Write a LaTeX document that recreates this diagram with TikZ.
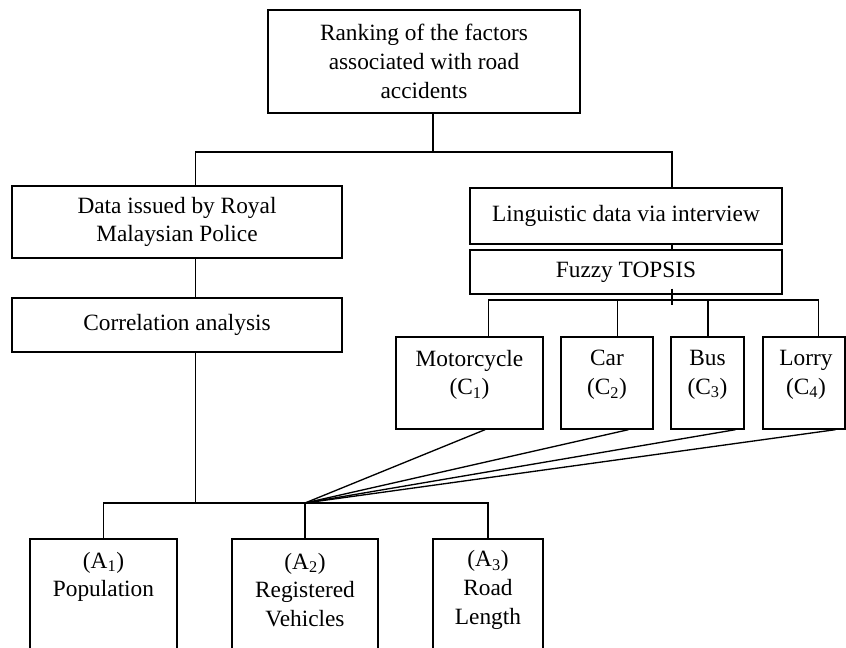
\documentclass[tikz,border=0pt]{standalone}
\usepackage{fontspec}
\setmainfont{Liberation Serif}
\usetikzlibrary{calc}
\begin{document}
\begin{tikzpicture}[x=0.75pt,y=-0.75pt,
  box/.style={draw, line width=1pt, inner sep=0pt, align=center, font=\fontsize{17.5}{21.5}\selectfont},
  txt/.style={inner sep=0pt, align=center, font=\fontsize{17.5}{21.5}\selectfont},
  conn/.style={line width=1pt}]
\useasboundingbox (0,0) rectangle (846,648);
\clip (0,0) rectangle (846,648);
% boxes
\node[box, minimum width=234pt, minimum height=77.25pt] (top) at (424,61.5) {Ranking of the factors\\associated with road\\accidents};
\node[box, minimum width=247.5pt, minimum height=54pt] (data) at (177,222) {Data issued by Royal\\Malaysian Police};
\node[box, minimum width=247.5pt, minimum height=40.5pt] (corr) at (177,325) {Correlation analysis};
\node[box, minimum width=234pt, minimum height=42pt] (ling) at (626,216) {Linguistic data via interview};
\node[box, minimum width=234pt, minimum height=33pt] (fuzzy) at (626,272) {Fuzzy TOPSIS};
\node[box, minimum width=110.25pt, minimum height=69pt] (moto) at (469.5,383) {};
\node[box, minimum width=69pt, minimum height=69pt] (car) at (607,383) {};
\node[box, minimum width=54.75pt, minimum height=69pt] (bus) at (707.5,383) {};
\node[box, minimum width=61.5pt, minimum height=69pt] (lorry) at (804,383) {};
\node[txt] (motoT) at (469.5,375) {Motorcycle\\(C\textsubscript{1})};
\node[txt] (carT) at (607,375) {Car\\(C\textsubscript{2})};
\node[txt] (busT) at (707.5,375) {Bus\\(C\textsubscript{3})};
\node[txt] (lorryT) at (806,375) {Lorry\\(C\textsubscript{4})};
\node[box, minimum width=110.25pt, minimum height=98.25pt] (a1) at (103.5,604.5) {};
\node[box, minimum width=109.5pt, minimum height=98.25pt] (a2) at (305,604.5) {};
\node[box, minimum width=82.5pt, minimum height=98.25pt] (a3) at (488,604.5) {};
\node[txt] (a1T) at (103.5,577) {(A\textsubscript{1})\\Population};
\node[txt] (a2T) at (305,590) {(A\textsubscript{2})\\Registered\\Vehicles};
\node[txt] (a3T) at (488,590) {(A\textsubscript{3})\\Road\\Length};
% levels
\coordinate (lvl1) at (0,152);
\coordinate (lvl2) at (0,300);
\coordinate (lvl3) at (0,503);
% top junction
\coordinate (tS) at ($(top.south west)!0.529!(top.south east)$);
\coordinate (dN) at ($(data.north west)!0.555!(data.north east)$);
\coordinate (lN) at ($(ling.north west)!0.647!(ling.north east)$);
\draw[conn] (tS) -- (tS |- lvl1);
\draw[conn] (dN) -- (dN |- lvl1) -- (lN |- lvl1) -- (lN);
\draw[conn] (dN |- data.south) -- (dN |- corr.north);
\draw[conn] (lN |- ling.south) -- (lN |- fuzzy.north);
\draw[conn] ($(lN |- fuzzy.south)+(0,-6)$) -- ($(lN |- lvl2)+(0,5)$);
% C drops
\coordinate (mN) at ($(moto.north west)!0.626!(moto.north east)$);
\coordinate (cN) at ($(car.north west)!0.609!(car.north east)$);
\coordinate (bN) at ($(bus.north west)!0.507!(bus.north east)$);
\coordinate (rN) at ($(lorry.north west)!0.67!(lorry.north east)$);
\draw[conn] (mN) -- (mN |- lvl2) -- (rN |- lvl2) -- (rN);
\draw[conn] (cN) -- (cN |- lvl2);
\draw[conn] (bN) -- (bN |- lvl2);
% left trunk and bottom bus
\draw[conn] (dN |- corr.south) -- (dN |- lvl3);
\draw[conn] (a1.north) -- (a1.north |- lvl3) -- (a3.north |- lvl3) -- (a3.north);
\draw[conn] (a2.north) -- (a2.north |- lvl3);
\coordinate (cv) at (a2.north |- lvl3);
% converging lines
\draw[conn] ($(moto.south west)!0.605!(moto.south east)$) -- (cv);
\draw[conn] ($(car.south west)!0.73!(car.south east)$) -- (cv);
\draw[conn] ($(bus.south west)!0.877!(bus.south east)$) -- (cv);
\draw[conn] ($(lorry.south west)!0.878!(lorry.south east)$) -- (cv);
\end{tikzpicture}
\end{document}
